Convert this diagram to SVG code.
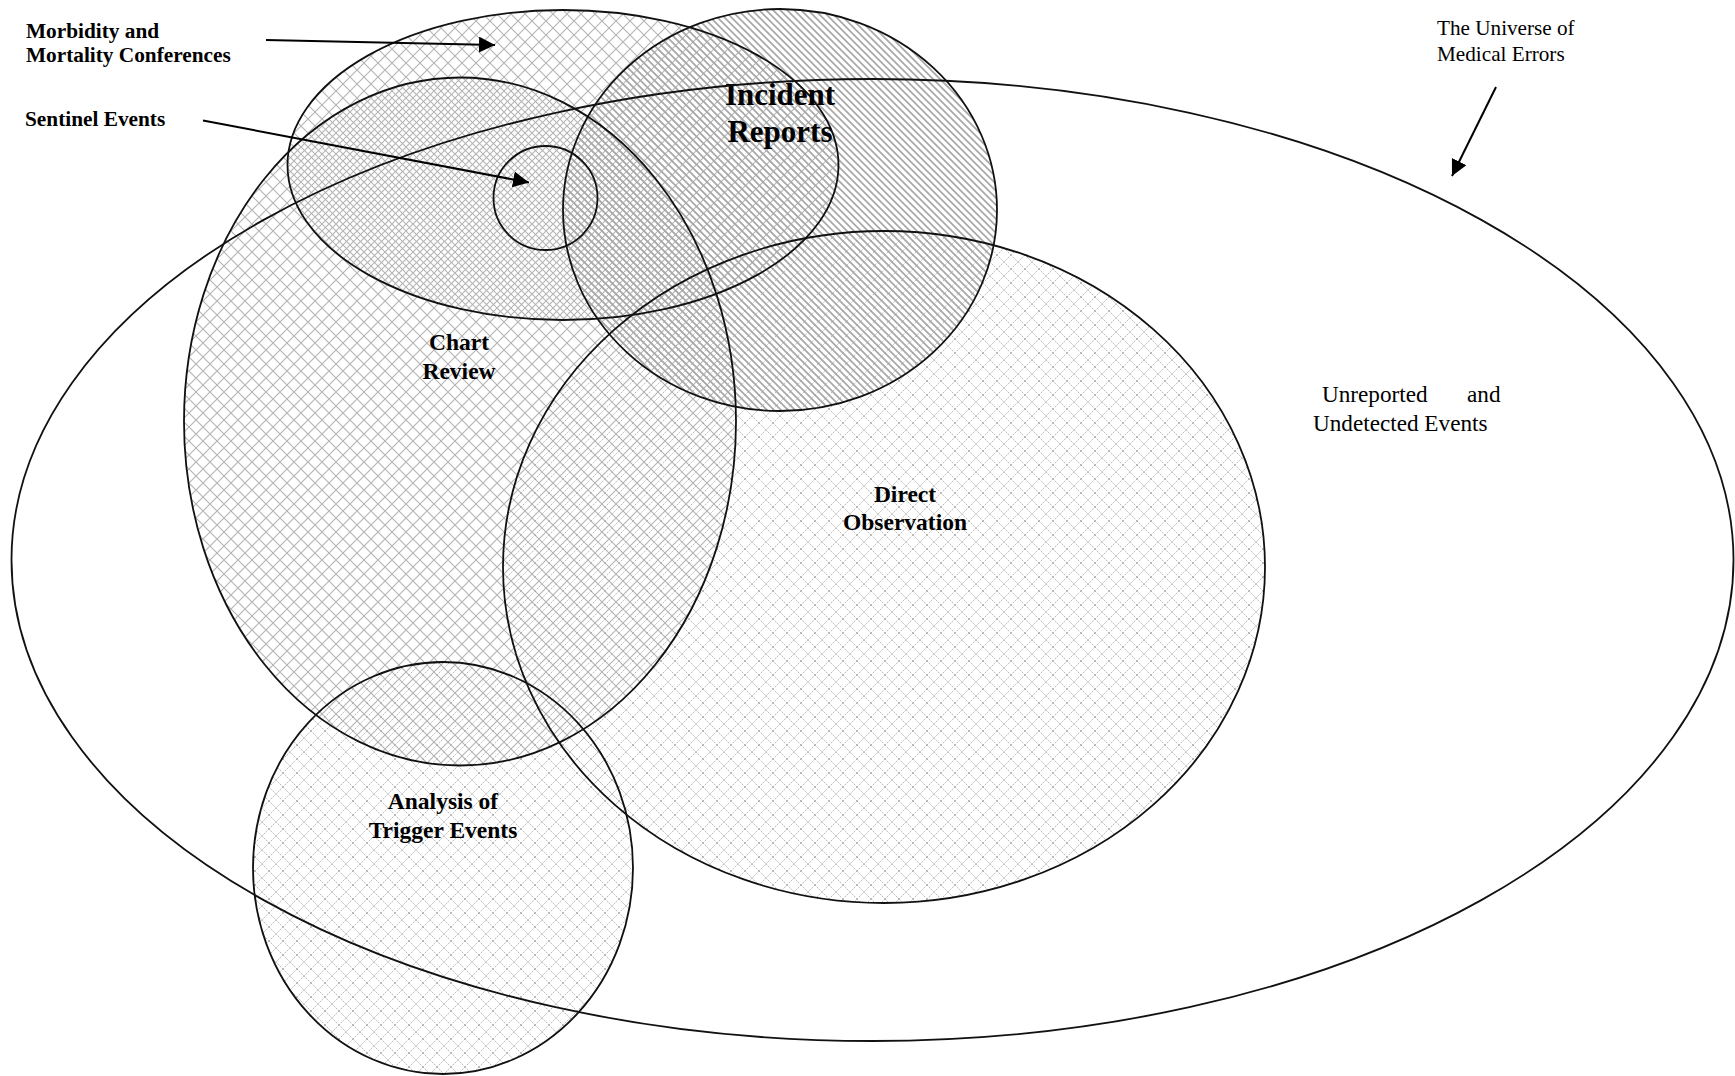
<svg xmlns="http://www.w3.org/2000/svg" width="1735" height="1076" viewBox="0 0 1735 1076">
<defs>
<pattern id="xhatchA" patternUnits="userSpaceOnUse" width="14" height="14">
<path d="M0,0 L14,14 M14,0 L0,14" stroke="#b4b4b4" stroke-width="1.1" fill="none"/>
</pattern>
<pattern id="xhatchB" patternUnits="userSpaceOnUse" width="14" height="14" x="7" y="0">
<path d="M0,0 L14,14 M14,0 L0,14" stroke="#b4b4b4" stroke-width="1.1" fill="none"/>
</pattern>
<pattern id="xhatchLight" patternUnits="userSpaceOnUse" width="14" height="14" x="3" y="3">
<path d="M0,0 L14,14 M14,0 L0,14" stroke="#bababa" stroke-width="1" stroke-dasharray="2 1" fill="none"/>
</pattern>
<pattern id="stripes" patternUnits="userSpaceOnUse" width="7" height="7">
<path d="M-1,-1 L8,8 M-1,6 L1,8 M6,-1 L8,1" stroke="#a8a8a8" stroke-width="1.7" fill="none"/>
</pattern>
<marker id="arrow" viewBox="0 0 10 10" refX="10" refY="5" markerWidth="8" markerHeight="8" markerUnits="strokeWidth" orient="auto">
<path d="M0,0 L10,5 L0,10 Z" fill="#000"/>
</marker>
</defs>
<style>
.shape{stroke:#111;stroke-width:1.8;fill:none}
.lbl{font-family:"Liberation Serif","Times New Roman",serif;font-weight:bold;fill:#000}
.plain{font-family:"Liberation Serif","Times New Roman",serif;fill:#000}
.conn{stroke:#000;stroke-width:2;fill:none;marker-end:url(#arrow)}
</style>
<rect width="1735" height="1076" fill="#fff"/>

<g id="fills" stroke="none">
<ellipse cx="884" cy="567" rx="381" ry="336" fill="url(#xhatchLight)"/>
<ellipse cx="443" cy="868" rx="190" ry="206" fill="url(#xhatchLight)"/>
<ellipse cx="460" cy="421.5" rx="276" ry="344" fill="url(#xhatchA)"/>
<ellipse cx="563" cy="165" rx="275.5" ry="155" fill="url(#xhatchB)"/>
<ellipse cx="780" cy="210" rx="217" ry="201" fill="url(#stripes)"/>
</g>

<g id="direct-observation">
<ellipse class="shape" cx="884" cy="567" rx="381" ry="336"/>
<text class="lbl" font-size="23.5" x="905" y="502" text-anchor="middle">Direct</text>
<text class="lbl" font-size="23.5" x="905" y="530" text-anchor="middle">Observation</text>
</g>
<g id="trigger-events">
<ellipse class="shape" cx="443" cy="868" rx="190" ry="206"/>
<text class="lbl" font-size="23.5" x="443" y="809" text-anchor="middle">Analysis of</text>
<text class="lbl" font-size="23.5" x="443" y="838" text-anchor="middle">Trigger Events</text>
</g>
<g id="chart-review">
<ellipse class="shape" cx="460" cy="421.5" rx="276" ry="344"/>
<text class="lbl" font-size="23.5" x="459" y="350" text-anchor="middle">Chart</text>
<text class="lbl" font-size="23.5" x="459" y="379" text-anchor="middle">Review</text>
</g>
<g id="mm-conferences">
<ellipse class="shape" cx="563" cy="165" rx="275.5" ry="155"/>
<text class="lbl" font-size="21.3" x="26" y="38">Morbidity and</text>
<text class="lbl" font-size="21.3" x="26" y="62">Mortality Conferences</text>
</g>
<g id="incident-reports">
<ellipse class="shape" cx="780" cy="210" rx="217" ry="201"/>
<text class="lbl" font-size="31" x="780" y="105" text-anchor="middle">Incident</text>
<text class="lbl" font-size="31" x="780" y="142" text-anchor="middle">Reports</text>
</g>
<g id="sentinel-events">
<circle class="shape" cx="545.5" cy="198" r="52"/>
<text class="lbl" font-size="21.3" x="25" y="126">Sentinel Events</text>
</g>
<g id="universe">
<ellipse class="shape" cx="872.5" cy="560" rx="861" ry="481" stroke-width="1.6"/>
<text class="plain" font-size="21.2" x="1437" y="35">The Universe of</text>
<text class="plain" font-size="21.2" x="1437" y="61">Medical Errors</text>
<text class="plain" font-size="23.2" y="402"><tspan x="1322">Unreported</tspan><tspan x="1467">and</tspan></text>
<text class="plain" font-size="23.2" x="1313" y="431">Undetected Events</text>
</g>

<g id="connectors">
<line class="conn" x1="266" y1="40" x2="495" y2="45"/>
<line class="conn" x1="203" y1="120.5" x2="529" y2="182.5"/>
<line class="conn" x1="1496" y1="87" x2="1452" y2="176"/>
</g>
</svg>
